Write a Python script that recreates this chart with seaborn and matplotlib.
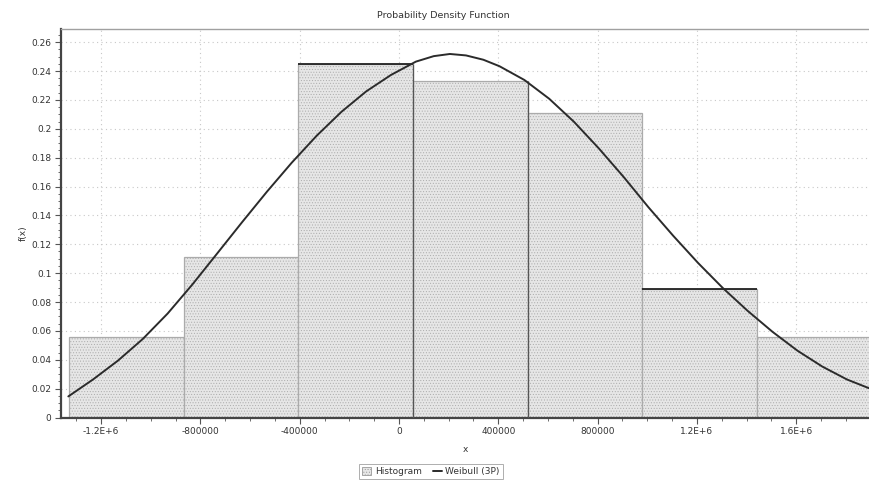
import matplotlib
matplotlib.use("Agg")
import matplotlib.pyplot as plt
import matplotlib.ticker as mticker
from matplotlib.patches import Patch
from matplotlib.lines import Line2D
import pandas as pd
import seaborn as sns

# ---- data ----
bin_edges = [-1328000, -866500, -405000, 56500, 518000, 979500, 1441000, 1902500]
bin_heights = [0.0557, 0.1112, 0.2447, 0.2330, 0.2112, 0.0889, 0.0557]
dark_top = [False, False, True, False, False, True, False]
dark_right = [False, False, True, True, False, False, False]

curve_x = [-1332000, -1232000, -1132000, -1032000, -932000, -832000, -732000,
           -632000, -532000, -432000, -332000, -232000, -132000, -32000,
           68000, 140000, 205000, 270000, 340000, 405000, 505000, 605000, 705000,
           805000, 905000, 1005000, 1105000, 1205000, 1305000, 1405000,
           1505000, 1605000, 1705000, 1805000, 1893000]
curve_y = [0.0146, 0.0264, 0.0394, 0.0544, 0.0720, 0.0922, 0.1137,
           0.1353, 0.1564, 0.1765, 0.1951, 0.2117, 0.2259, 0.2373,
           0.2465, 0.2503, 0.2518, 0.2508, 0.2478, 0.2433, 0.2338, 0.2208, 0.2048,
           0.1864, 0.1666, 0.1456, 0.1258, 0.1070, 0.0896, 0.0738,
           0.0593, 0.0463, 0.0353, 0.0263, 0.0203]

x_ticks = [-1200000, -800000, -400000, 0, 400000, 800000, 1200000, 1600000]
x_tick_labels = ["-1.2E+6", "-800000", "-400000", "0", "400000", "800000", "1.2E+6", "1.6E+6"]
y_ticks = [0, 0.02, 0.04, 0.06, 0.08, 0.1, 0.12, 0.14, 0.16, 0.18, 0.2, 0.22, 0.24, 0.26]
y_tick_labels = ["0", "0.02", "0.04", "0.06", "0.08", "0.1", "0.12", "0.14", "0.16",
                 "0.18", "0.2", "0.22", "0.24", "0.26"]

title = "Probability Density Function"
x_label = "x"
y_label = "f(x)"
legend_labels = ["Histogram", "Weibull (3P)"]

# ---- styling ----
sns.set_style("white")
plt.rcParams["font.family"] = ["DejaVu Sans"]
plt.rcParams["hatch.color"] = "#d2d2d2"
plt.rcParams["hatch.linewidth"] = 0.4

FS = 6.5
text_col = "#333333"
bar_face = "#e6e6e6"
bar_edge = "#ababab"
curve_col = "#2b2b2b"

fig = plt.figure(figsize=(8.69, 4.80), dpi=100)
ax = fig.add_axes([61 / 869, 1 - 417.5 / 480, 808 / 869, 388.5 / 480])

centers = [(bin_edges[i] + bin_edges[i + 1]) / 2 for i in range(len(bin_heights))]
hist_df = pd.DataFrame({"x": centers, "w": bin_heights})
sns.histplot(data=hist_df, x="x", weights="w", bins=bin_edges, stat="count",
             color=bar_face, edgecolor=bar_edge, linewidth=0.9, alpha=1.0, ax=ax,
             zorder=2)
for p in ax.patches:
    p.set_facecolor(bar_face)
    p.set_edgecolor(bar_edge)
    p.set_hatch("......")

# darker edges as in the reference rendering
for i, h in enumerate(bin_heights):
    if dark_top[i]:
        ax.hlines(h, bin_edges[i], bin_edges[i + 1], color="#222222", lw=1.3, zorder=3)
    if dark_right[i]:
        ax.vlines(bin_edges[i + 1], 0, h, color="#555555", lw=0.9, zorder=3)

curve_df = pd.DataFrame({"x": curve_x, "y": curve_y})
sns.lineplot(data=curve_df, x="x", y="y", color=curve_col, lw=1.4, ax=ax, zorder=4)

ax.set_xlim(-1361500, 1893300)
ax.set_ylim(0, 0.2691)

ax.set_xticks(x_ticks)
ax.set_xticklabels(x_tick_labels)
ax.set_yticks(y_ticks)
ax.set_yticklabels(y_tick_labels)
ax.xaxis.set_minor_locator(mticker.MultipleLocator(100000))
ax.yaxis.set_minor_locator(mticker.MultipleLocator(0.005))

ax.tick_params(axis="both", which="major", direction="out", length=4, width=0.8,
               color="#555555", labelsize=FS, labelcolor=text_col, pad=3,
               bottom=True, left=True)
ax.tick_params(axis="both", which="minor", direction="out", length=2, width=0.6,
               color="#555555", bottom=True, left=True)

ax.grid(True, which="major", linestyle=(0, (1, 3)), color="#c8c8c8", lw=0.8, zorder=0)
ax.set_axisbelow(True)

for s in ["left", "bottom"]:
    ax.spines[s].set_color("#444444")
    ax.spines[s].set_linewidth(1.6)
ax.spines["top"].set_color("#a0a0a0")
ax.spines["top"].set_linewidth(1.0)
ax.spines["right"].set_visible(False)

ax.set_xlabel(x_label, fontsize=FS, color=text_col, labelpad=6)
ax.set_ylabel(y_label, fontsize=FS, color=text_col)
ax.yaxis.set_label_coords(-0.041, 0.475)

fig.text(443 / 869, 1 - 15 / 480, title, ha="center", va="center",
         fontsize=FS + 0.3, color=text_col)

handles = [Patch(facecolor=bar_face, edgecolor="#999999", hatch="......", lw=0.6),
           Line2D([0], [0], color=curve_col, lw=1.4)]
leg = fig.legend(handles, legend_labels, loc="center", ncol=2,
                 bbox_to_anchor=(431 / 869, 1 - 471.5 / 480), fontsize=FS,
                 frameon=True, fancybox=False, edgecolor="#9a9a9a",
                 handlelength=1.0, handleheight=0.9, handletextpad=0.4,
                 columnspacing=1.2, borderpad=0.35, borderaxespad=0)
leg.get_frame().set_linewidth(0.7)
for t in leg.get_texts():
    t.set_color(text_col)

fig.savefig("out.png", dpi=100)
